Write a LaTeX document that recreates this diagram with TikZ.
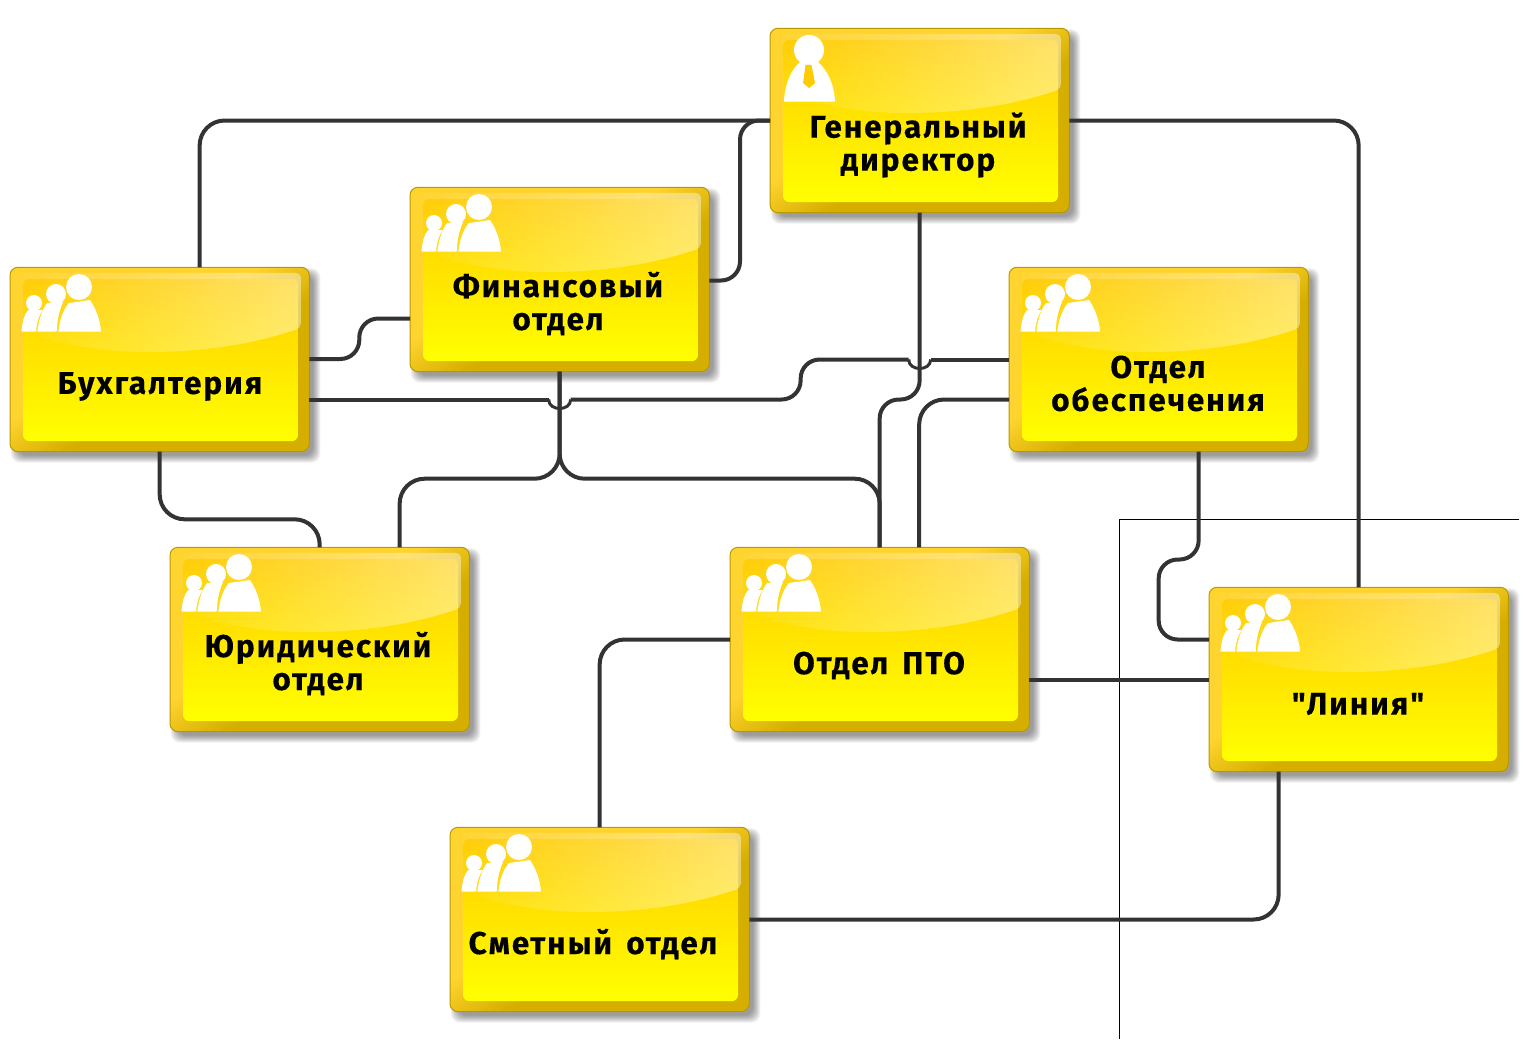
\documentclass[tikz,border=0pt]{standalone}
\usepackage{fontspec}
\newfontfamily\cardfont{Fira Sans Bold}[LetterSpace=6.2,FakeBold=0.25,WordSpace=1.5]
\usetikzlibrary{calc,fadings}
\definecolor{edgegold}{HTML}{B89800}
\definecolor{lightgold}{HTML}{FFD42E}
\definecolor{darkgold}{HTML}{D6AE00}
\definecolor{topgold}{HTML}{FFCC00}
\definecolor{topyellow}{HTML}{FFFF00}
\definecolor{linegray}{HTML}{333333}
\tikzfading[name=glossfade,left color=transparent!97,right color=transparent!58]
\pgfdeclarehorizontalshading{cardedge}{100bp}{color(0bp)=(lightgold); color(44bp)=(lightgold); color(56bp)=(darkgold); color(100bp)=(darkgold)}
\tikzset{
  cardbox/.style={rectangle,draw=none,minimum width=299.3pt,minimum height=184.4pt,inner sep=0pt,outer sep=0pt},
  cardtext/.style={font=\cardfont\fontsize{31.5}{33}\selectfont,align=center,text=black,inner sep=0pt},
  conn/.style={draw=linegray,line width=4pt,rounded corners=25pt},
  sconn/.style={draw=linegray,line width=4pt,rounded corners=19pt},
  jumpline/.style={draw=linegray,line width=3pt},
  thinline/.style={draw=black,line width=0.8pt},
}
\newcommand{\cardbase}{%
  \foreach \s in {5,4,3,2,1,0,-1,-2}{
    \fill[black,opacity=0.06,rounded corners=9pt] (6-\s,6.3-\s) rectangle (305.3+\s,190.7+\s);
  }
  \shade[shading=cardedge,shading angle=-58,rounded corners=8pt] (0,0.3) rectangle (299.3,184.7);
  \draw[edgegold,line width=1pt,rounded corners=8pt] (0,0.3) rectangle (299.3,184.7);
  \shade[top color=topgold,bottom color=topyellow,rounded corners=6pt] (13,12) rectangle (288,174);
  \fill[white,path fading=glossfade,rounded corners=5pt]
    (12,6) -- (291,6) -- (291,61) [sharp corners] .. controls (240,78) and (190,85) .. (140,85)
    .. controls (90,85) and (50,78) .. (12,63) -- cycle;
}
\newcommand{\groupicon}{%
  \fill[white] (24,36) circle (8);
  \fill[white] (11.5,64.7) .. controls (12.5,54) and (14,48) .. (18,43) -- (32.7,43) .. controls (28,50) and (26.5,58) .. (26,64.7) -- cycle;
  \fill[white] (46,27) circle (10);
  \fill[white] (27.3,64.7) .. controls (29,52) and (32,43) .. (37,36) -- (53,35) .. controls (49,44) and (47,54) .. (46.7,64.7) -- cycle;
  \fill[white] (69,20) circle (13);
  \fill[white] (48.3,64.7) .. controls (50,52) and (53,43) .. (59,36) -- (80,33) .. controls (86,42) and (90,52) .. (91,64.7) -- cycle;
}
\newcommand{\bossicon}{%
  \fill[white] (39,22) circle (15);
  \fill[white] (14,73.5) .. controls (15,55) and (21,42) .. (30,34) -- (48,34) .. controls (57,42) and (64,55) .. (65,73.5) -- cycle;
  \fill[topgold] (35.5,37) -- (41.5,37) -- (45,55) -- (39,60) -- (33,55) -- cycle;
}
% #1 name, #2 x, #3 y, #4 icon, #5 text x, #6 text y, #7 text
\newcommand{\orgcard}[7]{%
  \begin{scope}[shift={(#2,#3)}]
    \cardbase
    #4
    \node[cardbox] (#1) at (149.65,92.5) {};
    \node[cardtext] (#1-label) at (#5,#6) {#7};
  \end{scope}
}
\begin{document}
\begin{tikzpicture}[x=1pt,y=-1pt]
\useasboundingbox (0,0) rectangle (1523,1041);
\coordinate (thinA) at (1519,519.5);
\coordinate (thinB) at (1119.5,519.5);
\coordinate (thinC) at (1119.5,1039);
\draw[thinline] (thinA) -- (thinB) -- (thinC);

\orgcard{gen}{770}{28}{\bossicon}{148}{117}{Генеральный\\директор}
\orgcard{fin}{410}{187}{\groupicon}{148}{116.5}{Финансовый\\отдел}
\orgcard{bux}{10}{267}{\groupicon}{150}{119.5}{Бухгалтерия}
\orgcard{obe}{1009}{267}{\groupicon}{149}{116.5}{Отдел\\обеспечения}
\orgcard{yur}{170}{547}{\groupicon}{148}{116.5}{Юридический\\отдел}
\orgcard{pto}{730}{547}{\groupicon}{149}{118.5}{Отдел ПТО}
\orgcard{lin}{1209}{587}{\groupicon}{149}{117}{"Линия"}
\orgcard{sme}{450}{827}{\groupicon}{143}{117}{Сметный отдел}

% ports
\coordinate (buxTop) at ($(bux.north)+(40,0)$);
\coordinate (finRight) at ($(fin.east)+(0,1)$);
\coordinate (buxR2) at ($(bux.east)+(0,40)$);
\coordinate (buxR0) at ($(bux.east)+(0,-0.5)$);
\coordinate (finLeft) at ($(fin.west)+(0,39)$);
\coordinate (obeL1) at (obe.west);
\coordinate (obeL2) at ($(obe.west)+(0,40)$);
\coordinate (ptoTop1) at (pto.north);
\coordinate (ptoTop2) at ($(pto.north)+(39.5,0)$);
\coordinate (genDown) at (gen.south);
\coordinate (finDown) at (fin.south);
\coordinate (yurTop1) at (yur.north);
\coordinate (yurTop2) at ($(yur.north)+(80,0)$);
\coordinate (linTop) at (lin.north);
\coordinate (linBot) at ($(lin.south)+(-80,0)$);
\coordinate (linL1) at ($(lin.west)+(0,-40)$);
\coordinate (linL2) at (lin.west);
\coordinate (ptoRight) at ($(pto.east)+(0,40)$);
\coordinate (ptoLeft) at (pto.west);
\coordinate (smeTop) at (sme.north);
\coordinate (smeRight) at (sme.east);
\coordinate (obeDown) at ($(obe.south)+(40,0)$);
\coordinate (buxDown) at (bux.south);
\coordinate (busY) at ($(fin.south)+(0,107)$);
\coordinate (jumpA) at (genDown |- obeL1);
\coordinate (jumpB) at (finDown |- buxR2);

% general director links
\draw[conn] (gen.west) -| (buxTop);
\draw[sconn] (gen.west) -- ++(-30,0) |- (finRight);
\draw[conn] (gen.east) -| (linTop);
\draw[sconn] (genDown) |- ($(ptoTop1 |- buxR2)$) -- (ptoTop1);
% accounting to finance
\draw[sconn] (buxR0) -- ++(50,0) |- (finLeft);
% long line with two jumps
\draw[sconn] (obeL1) -- ($(jumpA)+(11,0)$);
\draw[jumpline] ($(jumpA)+(11,0)$) .. controls +(0,12) and +(0,12) .. ($(jumpA)+(-11,0)$);
\draw[sconn] ($(jumpA)+(-11,0)$) -- ($(jumpA)+(-119,0)$) |- ($(jumpB)+(11,0)$);
\draw[jumpline] ($(jumpB)+(11,0)$) .. controls +(0,12) and +(0,12) .. ($(jumpB)+(-11,0)$);
\draw[sconn] ($(jumpB)+(-11,0)$) -- (buxR2);
% finance down
\draw[conn] (finDown) |- ($(yurTop2 |- busY)$) -- (yurTop2);
\draw[conn] (finDown) |- ($(ptoTop1 |- busY)$) -- (ptoTop1);
% supply
\draw[conn] (obeL2) -| (ptoTop2);
\draw[sconn] (obeDown) |- ($(obeDown |- linL1)+(-40,-80)$) |- (linL1);
% accounting to legal
\draw[conn] (buxDown) |- ($(yurTop1)+(0,-28)$) -- (yurTop1);
% pto
\draw[conn] (ptoLeft) -| (smeTop);
\draw[sconn] (ptoRight) -- (linL2);
% estimate
\draw[conn] (smeRight) -| (linBot);
\end{tikzpicture}
\end{document}
